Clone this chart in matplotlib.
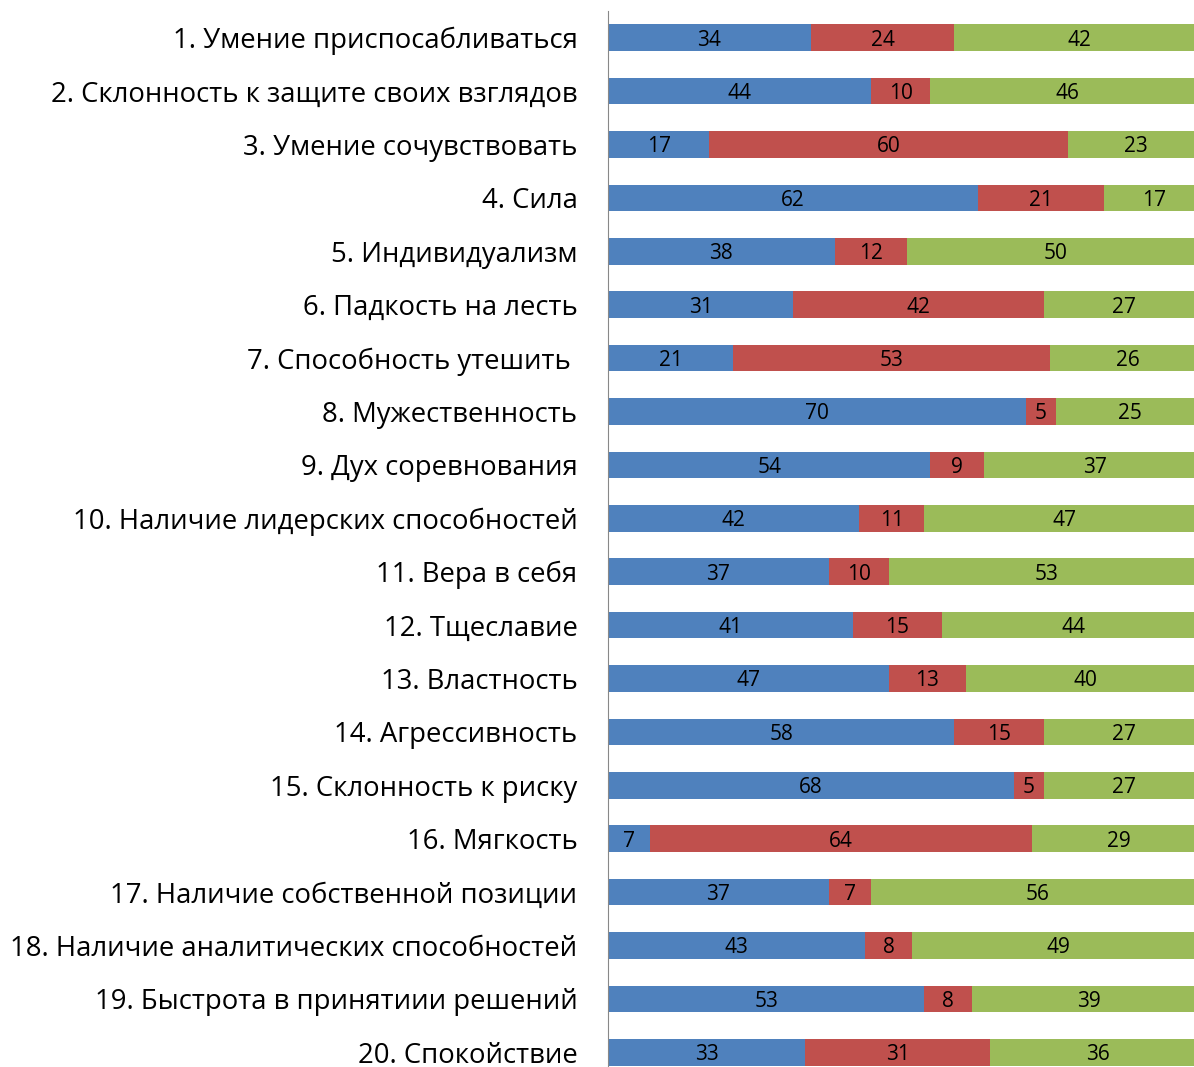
import matplotlib.pyplot as plt
import numpy as np

plt.rcParams['font.family'] = ['Open Sans', 'DejaVu Sans']

labels = [
    '1. Умение приспосабливаться',
    '2. Склонность к защите своих взглядов',
    '3. Умение сочувствовать',
    '4. Сила',
    '5. Индивидуализм',
    '6. Падкость на лесть',
    '7. Способность утешить ',
    '8. Мужественность',
    '9. Дух соревнования',
    '10. Наличие лидерских способностей',
    '11. Вера в себя',
    '12. Тщеславие',
    '13. Властность',
    '14. Агрессивность',
    '15. Склонность к риску',
    '16. Мягкость',
    '17. Наличие собственной позиции',
    '18. Наличие аналитических способностей',
    '19. Быстрота в принятиии решений',
    '20. Спокойствие',
]
blue = [34, 44, 17, 62, 38, 31, 21, 70, 54, 42, 37, 41, 47, 58, 68, 7, 37, 43, 53, 33]
red = [24, 10, 60, 21, 12, 42, 53, 5, 9, 11, 10, 15, 13, 15, 5, 64, 7, 8, 8, 31]
green = [42, 46, 23, 17, 50, 27, 26, 25, 37, 47, 53, 44, 40, 27, 27, 29, 56, 49, 39, 36]

colors = ['#4F81BD', '#C0504D', '#9BBB59']

W, H = 1194, 1067
fig = plt.figure(figsize=(W / 100, H / 100), dpi=100)
# plot area runs a little past the right edge of the picture
ax = fig.add_axes([608 / W, 1 - 1079 / H, 597 / W, (1079 - 11) / H])

y = np.arange(len(labels))
left = np.zeros(len(labels))
for vals, c in zip([blue, red, green], colors):
    vals = np.array(vals)
    bars = ax.barh(y, vals, left=left, height=0.5, color=c)
    txts = ax.bar_label(bars, labels=[str(v) for v in vals], label_type='center',
                        fontsize=15, color='black')
    for t in txts:
        t.set_va('center_baseline')
    left += vals

ax.set_xlim(0, 100)
ax.set_ylim(len(labels) - 0.5, -0.5)
ax.set_yticks(y)
ax.set_yticklabels(labels, fontsize=19.8, va='center_baseline')
ax.tick_params(axis='y', length=0, pad=22)
ax.set_xticks([])
for s in ['top', 'right', 'bottom']:
    ax.spines[s].set_visible(False)
ax.spines['left'].set_color('#888888')

fig.savefig('out.png', dpi=100)
